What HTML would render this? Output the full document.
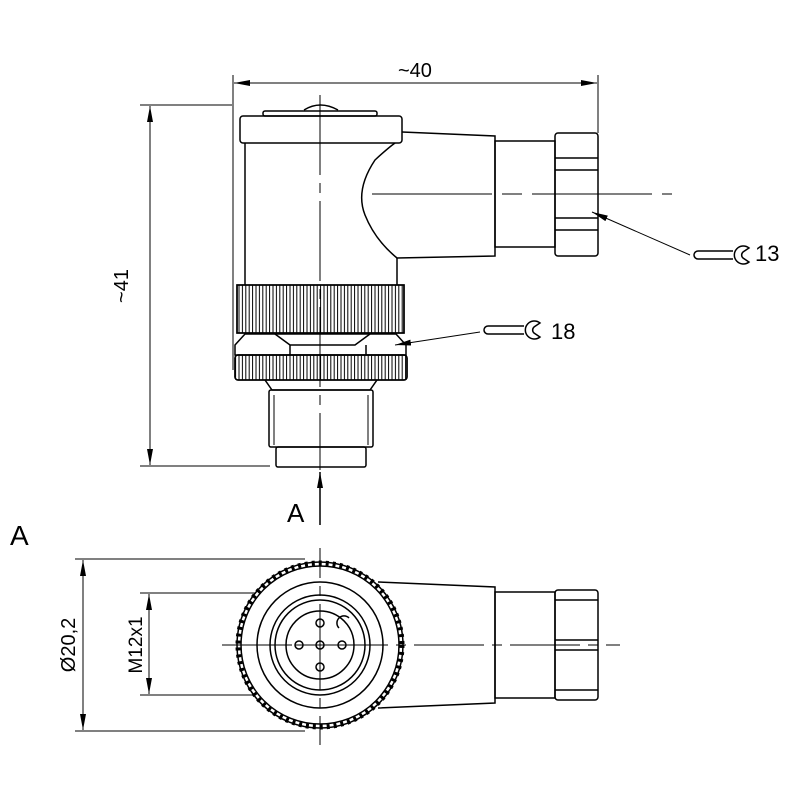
<!DOCTYPE html>
<html><head><meta charset="utf-8"><style>body{margin:0;background:#fff}svg{display:block}</style></head>
<body>
<svg width="800" height="800" viewBox="0 0 800 800" xmlns="http://www.w3.org/2000/svg" font-family="Liberation Sans, sans-serif">
<defs>
<pattern id="kn" width="3.4" height="10" patternUnits="userSpaceOnUse"><line x1="1" y1="0" x2="1" y2="10" stroke="#000" stroke-width="1"/></pattern>
<marker id="ar" viewBox="0 0 16 6" refX="16" refY="3" markerWidth="16" markerHeight="6" orient="auto-start-reverse" markerUnits="userSpaceOnUse"><path d="M0,0L16,3L0,6z" fill="#000"/></marker>
</defs>
<g fill="none" stroke="#000" stroke-width="1.5">
<line x1="233" y1="75" x2="233" y2="370" stroke-width="1"/>
<line x1="598" y1="75" x2="598" y2="133" stroke-width="1"/>
<line x1="234" y1="83" x2="597" y2="83" stroke-width="1" marker-start="url(#ar)" marker-end="url(#ar)"/>
<line x1="140" y1="105" x2="232" y2="105" stroke-width="1"/>
<line x1="140" y1="466" x2="270" y2="466" stroke-width="1"/>
<line x1="150" y1="106" x2="150" y2="465" stroke-width="1" marker-start="url(#ar)" marker-end="url(#ar)"/>
<path d="M304,110 Q320,100 338,110"/>
<rect x="263" y="111" width="114" height="5" rx="2"/>
<rect x="240" y="116" width="162" height="27" rx="3"/>
<line x1="245" y1="143" x2="245" y2="285"/>
<line x1="397" y1="258" x2="397" y2="285"/>
<path d="M402,132 L495,136 L495,256 L397,258 Q375,240 365,215 Q355,190 375,160 Q388,148 395,143"/>
<rect x="495" y="141" width="60" height="106"/>
<rect x="555" y="133" width="43" height="123" rx="3"/>
<line x1="555" y1="158" x2="598" y2="158"/><line x1="555" y1="170" x2="598" y2="170"/>
<line x1="555" y1="218" x2="598" y2="218"/><line x1="555" y1="230" x2="598" y2="230"/>
<rect x="237" y="285" width="167" height="48" fill="url(#kn)"/>
<rect x="237" y="285" width="167" height="48"/>
<path d="M235,345 L245,334 L396,334 L406,345 L406,355 L235,355Z"/>
<path d="M275,334 L290,345 L355,345 L370,334 M290,345 L290,355 M366,345 L366,355"/>
<rect x="235" y="355" width="172" height="25" rx="3" fill="url(#kn)"/>
<rect x="235" y="355" width="172" height="25" rx="3"/>
<path d="M265,380 L272,390 L370,390 L377,380"/>
<rect x="269" y="390" width="104" height="57" rx="2"/>
<rect x="276" y="447" width="90" height="20" rx="2"/>
<line x1="274" y1="395" x2="274" y2="445" stroke-width="1"/><line x1="368" y1="395" x2="368" y2="445" stroke-width="1"/>
</g>
<g stroke="#000" stroke-width="1" fill="none">
<line x1="320" y1="95" x2="320" y2="470" stroke-dasharray="80,8,10,8"/>
<line x1="372" y1="194" x2="672" y2="194" stroke-dasharray="120,10,20,10"/>
<line x1="320" y1="548" x2="320" y2="745" stroke-dasharray="30,8,10,8"/>
<line x1="222" y1="645" x2="620" y2="645" stroke-dasharray="70,8,10,8"/>
<line x1="690" y1="255" x2="592" y2="212" marker-end="url(#ar)"/>
<line x1="480" y1="332" x2="395" y2="345" marker-end="url(#ar)"/>
<line x1="320" y1="525" x2="320" y2="472" stroke-width="1.5" marker-end="url(#ar)"/>
<g stroke-width="1.5">
<path d="M733,251 L698,251 A4,4 0 0 0 698,259 L733,259"/>
<path d="M749,248 A9,9 0 1 0 749,262 L743,258 A4,4 0 0 1 743,252 Z" fill="#fff"/>
<path d="M524,326 L488,326 A4,4 0 0 0 488,334 L524,334"/>
<path d="M540,323 A9,9 0 1 0 540,337 L534,333 A4,4 0 0 1 534,327 Z" fill="#fff"/>
</g>
</g>
<g fill="#000" font-size="22">
<text x="398" y="77" font-size="20">~40</text>
<text transform="translate(128,286) rotate(-90)" text-anchor="middle" font-size="20">~41</text>
<text x="755" y="261">13</text>
<text x="551" y="339">18</text>
<text x="287" y="522" font-size="26">A</text>
<text x="10" y="545" font-size="28">A</text>
<text transform="translate(75,645) rotate(-90)" text-anchor="middle" font-size="20">Ø20,2</text>
<text transform="translate(142,645) rotate(-90)" text-anchor="middle" font-size="19">M12x1</text>
</g>
<g fill="none" stroke="#000" stroke-width="1.5">
<line x1="75" y1="559" x2="305" y2="559" stroke-width="1"/>
<line x1="75" y1="731" x2="305" y2="731" stroke-width="1"/>
<line x1="83" y1="560" x2="83" y2="730" stroke-width="1" marker-start="url(#ar)" marker-end="url(#ar)"/>
<line x1="140" y1="593" x2="310" y2="593" stroke-width="1"/>
<line x1="140" y1="695" x2="310" y2="695" stroke-width="1"/>
<line x1="149" y1="594" x2="149" y2="694" stroke-width="1" marker-start="url(#ar)" marker-end="url(#ar)"/>
<path d="M378,582 L495,587 L495,703 L378,708"/>
<rect x="495" y="592" width="60" height="106"/>
<rect x="555" y="590" width="43" height="110" rx="3"/>
<line x1="555" y1="600" x2="598" y2="600"/><line x1="555" y1="640" x2="598" y2="640"/>
<line x1="555" y1="650" x2="598" y2="650"/><line x1="555" y1="690" x2="598" y2="690"/>
<circle cx="320" cy="645" r="83" fill="#fff"/>
<circle cx="320" cy="645" r="82" stroke-width="5" stroke-dasharray="3,4"/>
<circle cx="320" cy="645" r="79" fill="#fff"/>
<circle cx="320" cy="645" r="63"/>
<circle cx="320" cy="645" r="50"/>
<circle cx="320" cy="645" r="45"/>
<circle cx="320" cy="645" r="34"/>
<circle cx="320" cy="623" r="4"/><circle cx="320" cy="667" r="4"/>
<circle cx="299" cy="645" r="4"/><circle cx="342" cy="645" r="4"/><circle cx="320" cy="645" r="4"/>
<path d="M339,628 A6,6 0 1 1 349,618"/>
<line x1="320" y1="615" x2="320" y2="675" stroke-width="1"/>
<line x1="295" y1="645" x2="345" y2="645" stroke-width="1"/>
<line x1="320" y1="548" x2="320" y2="745" stroke-width="1" stroke-dasharray="30,8,10,8"/>
<line x1="222" y1="645" x2="620" y2="645" stroke-width="1" stroke-dasharray="70,8,10,8"/>
</g>
</svg>
</body></html>
